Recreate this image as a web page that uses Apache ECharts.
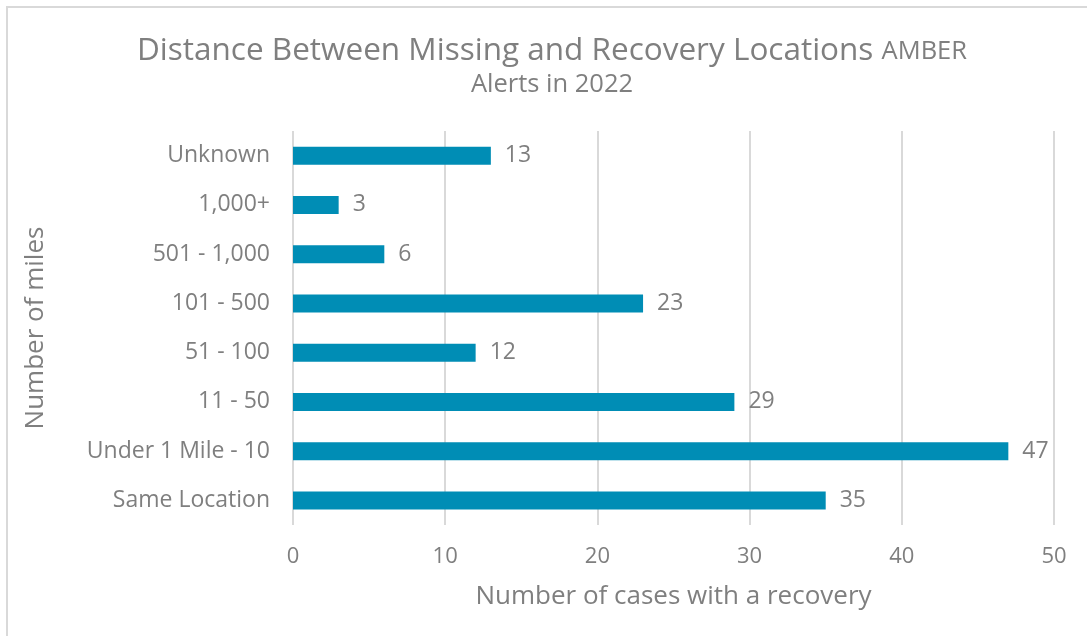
<!DOCTYPE html>
<html>
<head>
    <meta charset="utf-8">
    <title>AMBER Alerts 2022</title>
    <script src="https://cdn.jsdelivr.net/npm/echarts@6/dist/echarts.min.js"></script>
    <style>
        html, body { margin: 0; padding: 0; background: #fff; overflow: hidden; }
        #frame { position: absolute; left: 6px; top: 6px; width: 1100px; height: 650px;
                 border-left: 2px solid #d9d9d9; border-top: 2px solid #d9d9d9; }
        #chart1 { position: absolute; left: 0; top: 0; width: 1087px; height: 636px; }
    </style>
</head>
<body>
    <div id="frame"></div>
    <div id="chart1"></div>
    <script type="text/javascript">
        // data (bottom to top, as drawn)
        var categories = ['Same Location', 'Under 1 Mile - 10', '11 - 50', '51 - 100', '101 - 500', '501 - 1,000', '1,000+', 'Unknown'];
        var cases = [35, 47, 29, 12, 23, 6, 3, 13];

        var gray = '#7f7f7f';
        var font = 'Open Sans';

        var myChart1 = echarts.init(document.getElementById('chart1'));
        myChart1.setOption({
            backgroundColor: 'transparent',
            textStyle: { fontFamily: font },
            title: {
                text: 'Distance Between Missing and Recovery Locations {s|AMBER}\n{s|Alerts in 2022}',
                left: 547,
                top: 30,
                textAlign: 'center',
                textStyle: {
                    fontFamily: font,
                    fontWeight: 'normal',
                    fontSize: 31.5,
                    color: gray,
                    lineHeight: 33,
                    rich: {
                        s: { fontFamily: font, fontSize: 25.5, color: gray, lineHeight: 33 }
                    }
                }
            },
            grid: { left: 293, right: 33, top: 131, bottom: 111, containLabel: false },
            xAxis: {
                type: 'value',
                min: 0,
                max: 50,
                interval: 10,
                name: 'Number of cases with a recovery',
                nameLocation: 'middle',
                nameGap: 59,
                nameTextStyle: { fontSize: 26, color: gray, fontFamily: font },
                axisLine: { show: false },
                axisTick: { show: false },
                axisLabel: { fontSize: 22, color: gray, margin: 21, fontFamily: font },
                splitLine: { lineStyle: { color: '#d9d9d9', width: 2 } }
            },
            yAxis: {
                type: 'category',
                data: categories,
                name: 'Number of miles',
                nameLocation: 'middle',
                nameGap: 244,
                nameRotate: 90,
                nameTextStyle: { fontSize: 26, color: gray, fontFamily: font },
                axisLine: { show: false },
                axisTick: { show: false },
                axisLabel: { fontSize: 23, color: gray, margin: 23, fontFamily: font }
            },
            series: [{
                type: 'bar',
                data: cases,
                barWidth: 18,
                itemStyle: { color: '#008db5' },
                label: {
                    show: true,
                    position: 'right',
                    distance: 14,
                    fontSize: 23,
                    color: gray,
                    fontFamily: font
                }
            }]
        });
    </script>
</body>
</html>
